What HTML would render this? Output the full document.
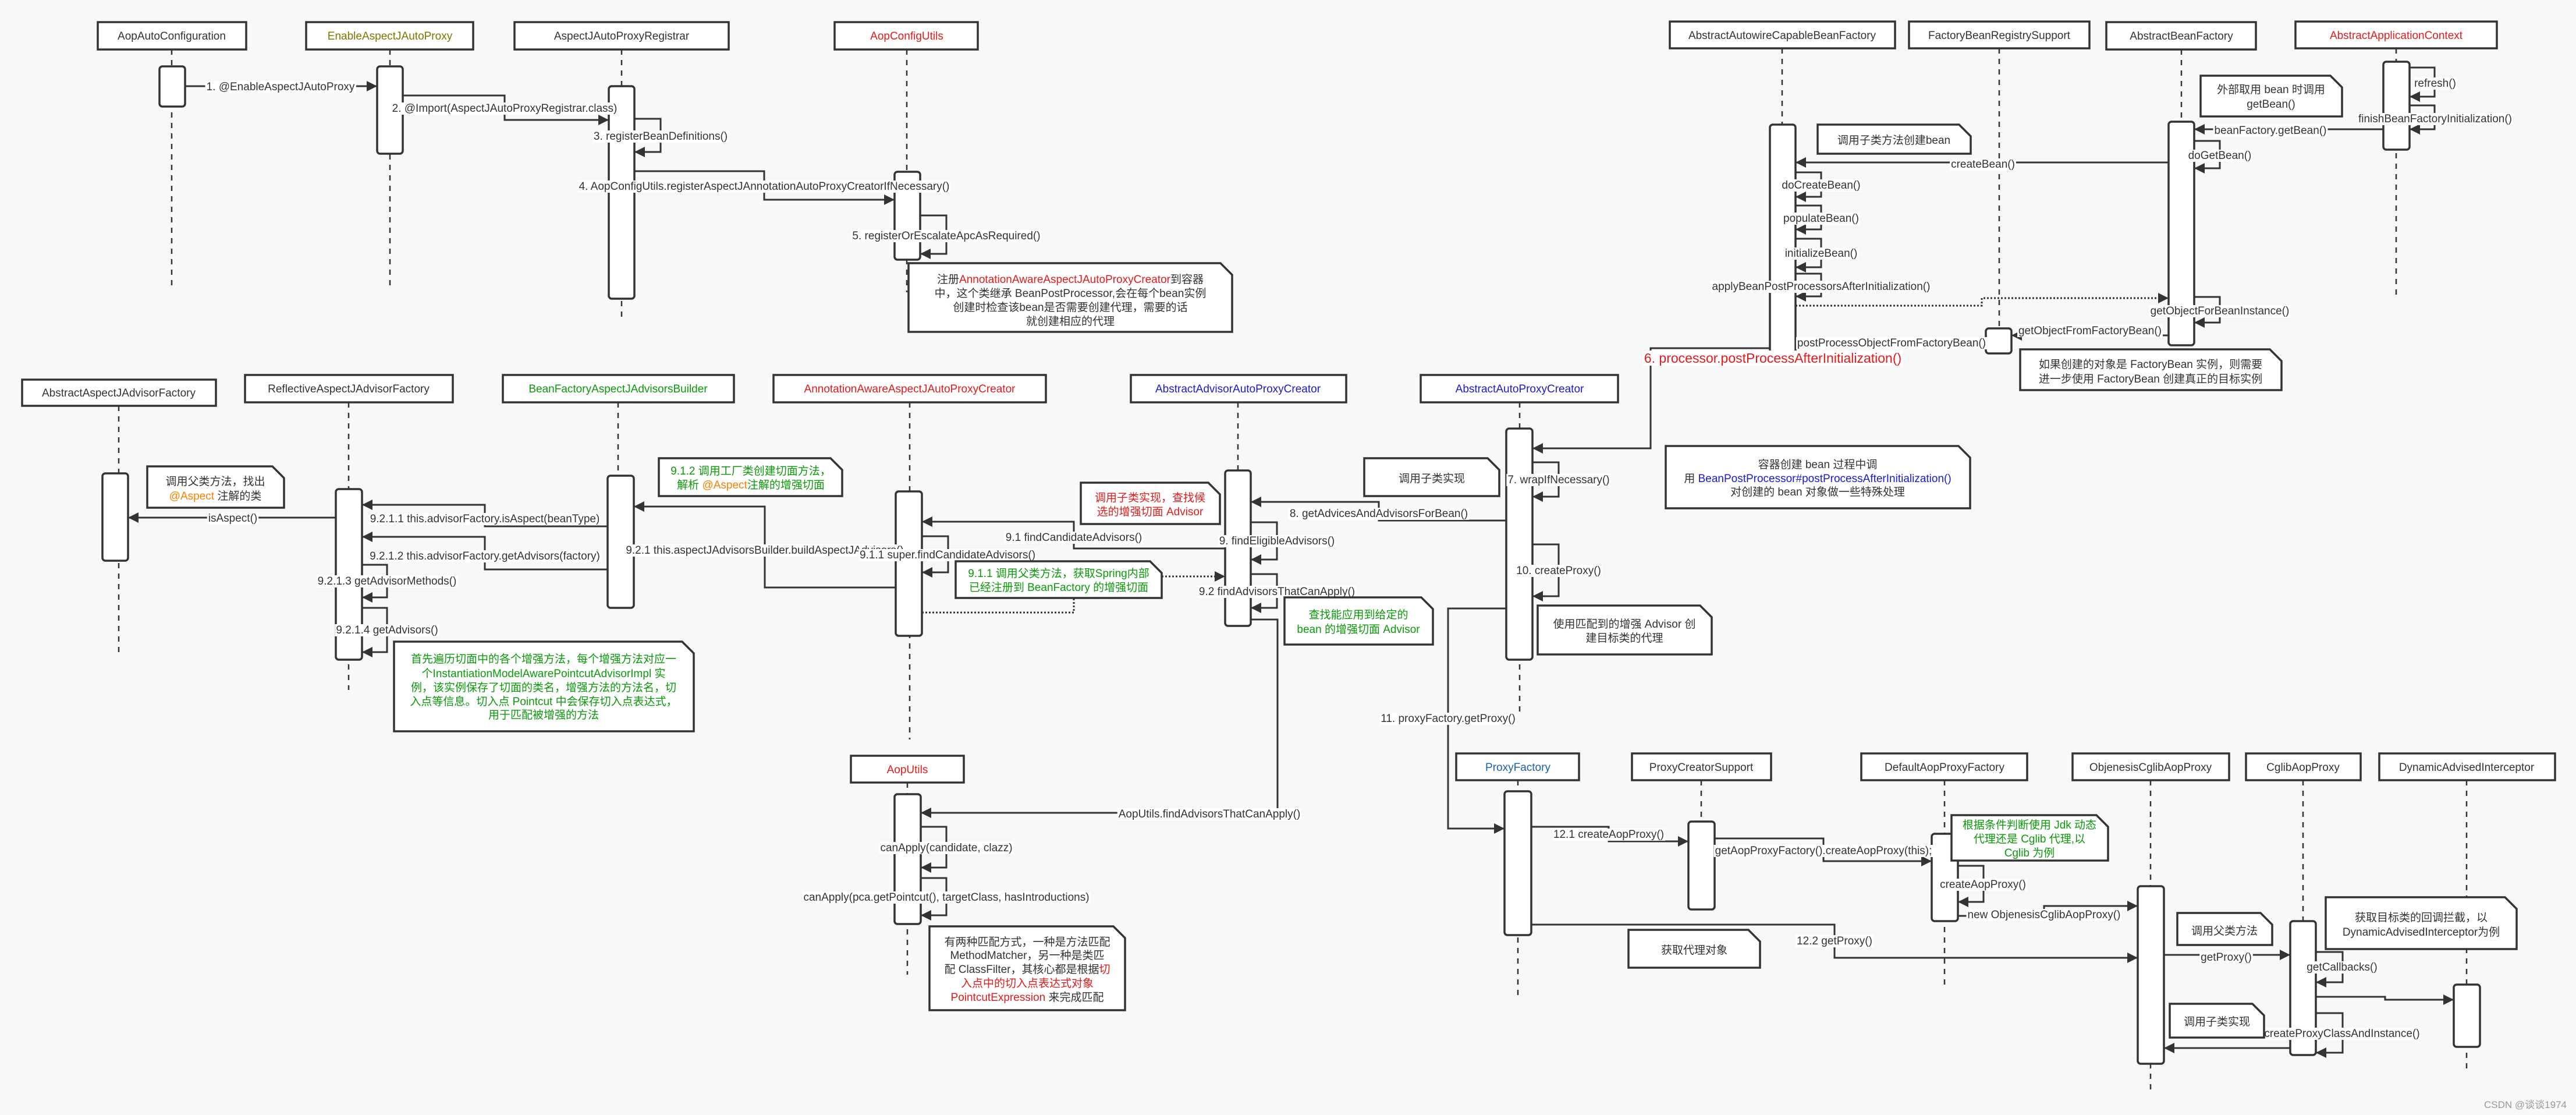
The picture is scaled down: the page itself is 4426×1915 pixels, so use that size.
<!DOCTYPE html>
<html><head><meta charset="utf-8">
<style>
html,body{margin:0;padding:0;background:#f8f8f8;}
svg{display:block;}
text{font-family:"Liberation Sans","Noto Sans CJK SC",sans-serif;font-size:19px;fill:#333;}
.h{text-anchor:middle;}
.lb{text-anchor:middle;}
.n{text-anchor:middle;}
.box{fill:#fff;stroke:#333;stroke-width:3.5;}
.act{fill:#fff;stroke:#333;stroke-width:3.5;}
.ll{stroke:#333;stroke-width:2.5;stroke-dasharray:9,9;fill:none;}
.m{fill:none;stroke:#333;stroke-width:3;marker-end:url(#a);}
.d{fill:none;stroke:#333;stroke-width:3;stroke-dasharray:3,3;marker-end:url(#a);}
.note{fill:#fff;stroke:#333;stroke-width:3.5;}
.g{fill:#0a9a0a;} .r{fill:#e31b1b;} .o{fill:#ff7f00;} .b{fill:#1a1ad0;}
</style></head><body>
<svg id="s" width="4426" height="1915" viewBox="0 0 4426 1915" xmlns="http://www.w3.org/2000/svg">
<defs><marker id="a" viewBox="0 0 10 10" refX="10" refY="5" markerWidth="18" markerHeight="18" markerUnits="userSpaceOnUse" orient="auto"><path d="M0,0L10,5L0,10z" fill="#333"/></marker></defs>
<rect width="4426" height="1915" fill="#f8f8f8"/>

<!-- lifelines -->
<g class="ll">
<path d="M295,85V496"/><path d="M670,85V496"/><path d="M1068,85V546"/><path d="M1558,85V502"/>
<path d="M3062,83V214"/><path d="M3435,83V565"/><path d="M3748,85V209"/><path d="M4117,83V507"/>
<path d="M204,697V1120"/><path d="M599,691V1185"/><path d="M1062,691V1044"/><path d="M1563,691V1270"/><path d="M2127,691V1075"/><path d="M2611,691V1223"/>
<path d="M1559,1344V1674"/><path d="M2608,1340V1710"/><path d="M2923,1340V1411"/><path d="M3341,1340V1699"/><path d="M3695,1340V1878"/><path d="M3957,1340V1582"/><path d="M4238,1340V1835"/>
</g>

<!-- headers -->
<rect class="box" x="168" y="38" width="255" height="47"/><text class="h" x="295" y="68">AopAutoConfiguration</text>
<rect class="box" x="526" y="38" width="287" height="47"/><text class="h" x="670" y="68" style="fill:#7a7a00">EnableAspectJAutoProxy</text>
<rect class="box" x="884" y="38" width="368" height="47"/><text class="h" x="1068" y="68">AspectJAutoProxyRegistrar</text>
<rect class="box" x="1434" y="38" width="246" height="47"/><text class="h r" x="1558" y="68">AopConfigUtils</text>
<rect class="box" x="2869" y="37" width="387" height="46"/><text class="h" x="3062" y="67">AbstractAutowireCapableBeanFactory</text>
<rect class="box" x="3280" y="37" width="310" height="46"/><text class="h" x="3435" y="67">FactoryBeanRegistrySupport</text>
<rect class="box" x="3619" y="38" width="257" height="47"/><text class="h" x="3748" y="68">AbstractBeanFactory</text>
<rect class="box" x="3944" y="37" width="346" height="46"/><text class="h r" x="4117" y="67">AbstractApplicationContext</text>
<rect class="box" x="38" y="652" width="333" height="45"/><text class="h" x="204" y="681">AbstractAspectJAdvisorFactory</text>
<rect class="box" x="421" y="644" width="357" height="47"/><text class="h" x="599" y="674">ReflectiveAspectJAdvisorFactory</text>
<rect class="box" x="864" y="644" width="397" height="47"/><text class="h g" x="1062" y="674">BeanFactoryAspectJAdvisorsBuilder</text>
<rect class="box" x="1329" y="644" width="468" height="47"/><text class="h r" x="1563" y="674">AnnotationAwareAspectJAutoProxyCreator</text>
<rect class="box" x="1943" y="644" width="370" height="47"/><text class="h b" x="2127" y="674">AbstractAdvisorAutoProxyCreator</text>
<rect class="box" x="2441" y="644" width="339" height="47"/><text class="h b" x="2611" y="674">AbstractAutoProxyCreator</text>
<rect class="box" x="1462" y="1298" width="194" height="46"/><text class="h r" x="1559" y="1328">AopUtils</text>
<rect class="box" x="2502" y="1294" width="211" height="46"/><text class="h" x="2608" y="1324" style="fill:#1d5fb0">ProxyFactory</text>
<rect class="box" x="2804" y="1294" width="239" height="46"/><text class="h" x="2923" y="1324">ProxyCreatorSupport</text>
<rect class="box" x="3198" y="1294" width="285" height="46"/><text class="h" x="3341" y="1324">DefaultAopProxyFactory</text>
<rect class="box" x="3561" y="1294" width="269" height="46"/><text class="h" x="3695" y="1324">ObjenesisCglibAopProxy</text>
<rect class="box" x="3859" y="1294" width="197" height="46"/><text class="h" x="3957" y="1324">CglibAopProxy</text>
<rect class="box" x="4088" y="1294" width="302" height="46"/><text class="h" x="4238" y="1324">DynamicAdvisedInterceptor</text>

<!-- activations -->
<g class="act">
<rect x="274" y="114" width="44" height="69" rx="5"/><rect x="648" y="114" width="44" height="150" rx="5"/><rect x="1046" y="148" width="44" height="365" rx="5"/><rect x="1537" y="295" width="44" height="151" rx="5"/>
<rect x="3041" y="214" width="44" height="392" rx="5"/><rect x="3412" y="564" width="44" height="43" rx="5"/><rect x="3726" y="209" width="44" height="384" rx="5"/><rect x="4095" y="106" width="45" height="151" rx="5"/>
<rect x="176" y="813" width="44" height="150" rx="5"/><rect x="577" y="840" width="45" height="293" rx="5"/><rect x="1044" y="817" width="45" height="227" rx="5"/><rect x="1539" y="844" width="45" height="248" rx="5"/><rect x="2105" y="808" width="44" height="267" rx="5"/><rect x="2588" y="736" width="45" height="397" rx="5"/>
<rect x="1537" y="1364" width="45" height="223" rx="5"/><rect x="2585" y="1359" width="46" height="247" rx="5"/><rect x="2901" y="1411" width="45" height="151" rx="5"/><rect x="3319" y="1432" width="45" height="150" rx="5"/><rect x="3673" y="1522" width="45" height="305" rx="5"/><rect x="3935" y="1582" width="44" height="230" rx="5"/><rect x="4216" y="1691" width="45" height="107" rx="5"/>
</g>

<!-- messages -->
<path class="m" d="M318,148H648"/>
<path class="m" d="M692,164H867V206H1046"/>
<path class="m" d="M1090,204H1135V261H1090"/>
<path class="m" d="M1090,294H1313V343H1537"/>
<path class="m" d="M1581,370H1626V436H1581"/>
<path class="m" d="M4140,116H4183V166H4140"/>
<path class="m" d="M4140,181H4183V222H4140"/>
<path class="m" d="M4095,222H3770"/>
<path class="m" d="M3770,242H3814V289H3770"/>
<path class="m" d="M3726,279H3085"/>
<path class="m" d="M3085,296H3129V338H3085"/>
<path class="m" d="M3085,353H3129V394H3085"/>
<path class="m" d="M3085,410H3129V459H3085"/>
<path class="m" d="M3085,470H3129V509H3085"/>
<path class="d" d="M3085,525H3405V512H3726"/>
<path class="m" d="M3770,510H3814V554H3770"/>
<path class="m" d="M3726,576H3456"/>
<path class="m" d="M3412,590H3085"/>
<path class="m" d="M3041,598H2836V770H2633"/>
<path class="m" d="M2633,794H2678V853H2633"/>
<path class="m" d="M2588,894H2369V862H2149"/>
<path class="m" d="M2149,897H2194V961H2149"/>
<path class="m" d="M2149,986H2194V1044H2149"/>
<path class="m" d="M2149,1064H2195V1396H1582"/>
<path class="m" d="M2105,942H1845V896H1584"/>
<path class="m" d="M1584,921H1629V983H1584"/>
<path class="d" d="M1584,1052H1845V990H2105"/>
<path class="m" d="M1539,1009H1314V870H1089"/>
<path class="m" d="M1044,904H833V867H622"/>
<path class="m" d="M1044,978H833V922H622"/>
<path class="m" d="M622,970H665V1026H622"/>
<path class="m" d="M622,1044H665V1120H622"/>
<path class="m" d="M577,889H220"/>
<path class="m" d="M2633,935H2678V1024H2633"/>
<path class="m" d="M2588,1045H2488V1423H2585"/>
<path class="m" d="M1582,1420H1626V1490H1582"/>
<path class="m" d="M1582,1508H1626V1572H1582"/>
<path class="m" d="M2631,1420H2764V1445H2901"/>
<path class="m" d="M2946,1440H3133V1479H3319"/>
<path class="m" d="M3364,1487H3408V1549H3364"/>
<path class="m" d="M3364,1573H3512V1556H3673"/>
<path class="m" d="M2631,1588H3152V1645H3673"/>
<path class="m" d="M3718,1640H3935"/>
<path class="m" d="M3979,1635H4025V1687H3979"/>
<path class="m" d="M3979,1712H4098V1717H4216"/>
<path class="m" d="M3979,1740H4025V1808H3979"/>
<path class="m" d="M3935,1800H3718"/>

<!-- message labels -->
<g id="labels">
<text class="lb" x="482" y="155">1. @EnableAspectJAutoProxy</text>
<text class="lb" x="867" y="192">2. @Import(AspectJAutoProxyRegistrar.class)</text>
<text class="lb" x="1135" y="240">3. registerBeanDefinitions()</text>
<text class="lb" x="1313" y="326">4. AopConfigUtils.registerAspectJAnnotationAutoProxyCreatorIfNecessary()</text>
<text class="lb" x="1626" y="411">5. registerOrEscalateApcAsRequired()</text>
<text class="lb" x="4184" y="149">refresh()</text>
<text class="lb" x="4184" y="210">finishBeanFactoryInitialization()</text>
<text class="lb" x="3901" y="230">beanFactory.getBean()</text>
<text class="lb" x="3814" y="273">doGetBean()</text>
<text class="lb" x="3407" y="288">createBean()</text>
<text class="lb" x="3129" y="324">doCreateBean()</text>
<text class="lb" x="3129" y="381">populateBean()</text>
<text class="lb" x="3129" y="441">initializeBean()</text>
<text class="lb" x="3129" y="498">applyBeanPostProcessorsAfterInitialization()</text>
<text class="lb" x="3814" y="540">getObjectForBeanInstance()</text>
<text class="lb" x="3591" y="574">getObjectFromFactoryBean()</text>
<text class="lb" x="3250" y="595">postProcessObjectFromFactoryBean()</text>
<text class="lb r" x="3046" y="623" style="font-size:23px">6. processor.postProcessAfterInitialization()</text>
<text class="lb" x="2678" y="830">7. wrapIfNecessary()</text>
<text class="lb" x="2369" y="888">8. getAdvicesAndAdvisorsForBean()</text>
<text class="lb" x="2194" y="935">9. findEligibleAdvisors()</text>
<text class="lb" x="2194" y="1022">9.2 findAdvisorsThatCanApply()</text>
<text class="lb" x="1845" y="929">9.1 findCandidateAdvisors()</text>
<text class="lb" x="1314" y="951">9.2.1 this.aspectJAdvisorsBuilder.buildAspectJAdvisors()</text>
<text class="lb" x="1628" y="959">9.1.1 super.findCandidateAdvisors()</text>
<text class="lb" x="833" y="897">9.2.1.1 this.advisorFactory.isAspect(beanType)</text>
<text class="lb" x="833" y="961">9.2.1.2 this.advisorFactory.getAdvisors(factory)</text>
<text class="lb" x="665" y="1004">9.2.1.3 getAdvisorMethods()</text>
<text class="lb" x="665" y="1088">9.2.1.4 getAdvisors()</text>
<text class="lb" x="400" y="896">isAspect()</text>
<text class="lb" x="2678" y="986">10. createProxy()</text>
<text class="lb" x="2488" y="1240">11. proxyFactory.getProxy()</text>
<text class="lb" x="2078" y="1404">AopUtils.findAdvisorsThatCanApply()</text>
<text class="lb" x="1626" y="1462">canApply(candidate, clazz)</text>
<text class="lb" x="1626" y="1547">canApply(pca.getPointcut(), targetClass, hasIntroductions)</text>
<text class="lb" x="2764" y="1439">12.1 createAopProxy()</text>
<text class="lb" x="3133" y="1467">getAopProxyFactory().createAopProxy(this);</text>
<text class="lb" x="3407" y="1525">createAopProxy()</text>
<text class="lb" x="3512" y="1577">new ObjenesisCglibAopProxy()</text>
<text class="lb" x="3152" y="1622">12.2 getProxy()</text>
<text class="lb" x="3825" y="1650">getProxy()</text>
<text class="lb" x="4024" y="1667">getCallbacks()</text>
<text class="lb" x="4024" y="1781">createProxyClassAndInstance()</text>
</g>

<!-- notes -->
<g class="note">
<path d="M1561,452H2097L2117,472V570H1561Z"/>
<path d="M3781,130H4004L4024,150V200H3781Z"/>
<path d="M3123,214H3366L3386,234V264H3123Z"/>
<path d="M3471,600H3900L3920,620V670H3471Z"/>
<path d="M253,801H468L488,821V872H253Z"/>
<path d="M677,1102H1172L1192,1122V1256H677Z"/>
<path d="M1132,787H1427L1447,807V852H1132Z"/>
<path d="M1642,964H1976L1996,984V1027H1642Z"/>
<path d="M1857,829H2076L2096,849V900H1857Z"/>
<path d="M2344,787H2556L2576,807V852H2344Z"/>
<path d="M2207,1026H2442L2462,1046V1107H2207Z"/>
<path d="M2862,766H3365L3385,786V873H2862Z"/>
<path d="M2642,1040H2921L2941,1060V1124H2642Z"/>
<path d="M1597,1591H1913L1933,1611V1735H1597Z"/>
<path d="M2798,1597H3004L3024,1617V1662H2798Z"/>
<path d="M3353,1400H3602L3622,1420V1478H3353Z"/>
<path d="M3741,1568H3884L3904,1588V1623H3741Z"/>
<path d="M3996,1541H4304L4324,1561V1630H3996Z"/>
<path d="M3728,1724H3870L3890,1744V1782H3728Z"/>
</g>
<g class="notes-text">
<text class="n" x="1839" y="486">注册<tspan class="r">AnnotationAwareAspectJAutoProxyCreator</tspan>到容器</text>
<text class="n" x="1839" y="510">中，这个类继承 BeanPostProcessor,会在每个bean实例</text>
<text class="n" x="1839" y="534">创建时检查该bean是否需要创建代理，需要的话</text>
<text class="n" x="1839" y="558">就创建相应的代理</text>
<text class="n" x="3902" y="160">外部取用 bean 时调用</text>
<text class="n" x="3902" y="185">getBean()</text>
<text class="n" x="3254" y="247">调用子类方法创建bean</text>
<text class="n" x="3695" y="632">如果创建的对象是 FactoryBean 实例，则需要</text>
<text class="n" x="3695" y="657">进一步使用 FactoryBean 创建真正的目标实例</text>
<text class="n" x="370" y="833">调用父类方法，找出</text>
<text class="n" x="370" y="858"><tspan class="o">@Aspect</tspan> 注解的类</text>
<text class="n g" x="934" y="1138">首先遍历切面中的各个增强方法，每个增强方法对应一</text>
<text class="n g" x="934" y="1163">个InstantiationModelAwarePointcutAdvisorImpl 实</text>
<text class="n g" x="934" y="1187">例，该实例保存了切面的类名，增强方法的方法名，切</text>
<text class="n g" x="934" y="1211">入点等信息。切入点 Pointcut 中会保存切入点表达式，</text>
<text class="n g" x="934" y="1234">用于匹配被增强的方法</text>
<text class="n g" x="1290" y="815">9.1.2 调用工厂类创建切面方法，</text>
<text class="n g" x="1290" y="839">解析 <tspan class="o">@Aspect</tspan>注解的增强切面</text>
<text class="n g" x="1819" y="991">9.1.1 调用父类方法，获取Spring内部</text>
<text class="n g" x="1819" y="1015">已经注册到 BeanFactory 的增强切面</text>
<text class="n r" x="1976" y="861">调用子类实现，查找候</text>
<text class="n r" x="1976" y="885">选的增强切面 Advisor</text>
<text class="n" x="2460" y="828">调用子类实现</text>
<text class="n g" x="2334" y="1062">查找能应用到给定的</text>
<text class="n g" x="2334" y="1087">bean 的增强切面 Advisor</text>
<text class="n" x="3123" y="804">容器创建 bean 过程中调</text>
<text class="n" x="3123" y="828">用 <tspan class="b">BeanPostProcessor#postProcessAfterInitialization()</tspan></text>
<text class="n" x="3123" y="851">对创建的 bean 对象做一些特殊处理</text>
<text class="n" x="2791" y="1078">使用匹配到的增强 Advisor 创</text>
<text class="n" x="2791" y="1102">建目标类的代理</text>
<text class="n" x="1765" y="1624">有两种匹配方式，一种是方法匹配</text>
<text class="n" x="1765" y="1647">MethodMatcher，另一种是类匹</text>
<text class="n" x="1765" y="1671">配 ClassFilter，其核心都是根据<tspan class="r">切</tspan></text>
<text class="n r" x="1765" y="1695">入点中的切入点表达式对象</text>
<text class="n" x="1765" y="1719"><tspan class="r">PointcutExpression</tspan> 来完成匹配</text>
<text class="n" x="2911" y="1638">获取代理对象</text>
<text class="n g" x="3487" y="1423">根据条件判断使用 Jdk 动态</text>
<text class="n g" x="3487" y="1447">代理还是 Cglib 代理,以</text>
<text class="n g" x="3487" y="1471">Cglib 为例</text>
<text class="n" x="3822" y="1605">调用父类方法</text>
<text class="n" x="4160" y="1582">获取目标类的回调拦截，以</text>
<text class="n" x="4160" y="1607">DynamicAdvisedInterceptor为例</text>
<text class="n" x="3809" y="1761">调用子类实现</text>
</g>
<text x="4410" y="1903" style="text-anchor:end;fill:#999;font-size:17px">CSDN @谈谈1974</text>
</svg>
<script>
(function(){var ts=document.querySelectorAll('#labels text');for(var i=0;i<ts.length;i++){var t=ts[i];try{var b=t.getBBox();var r=document.createElementNS('http://www.w3.org/2000/svg','rect');r.setAttribute('x',b.x-2);r.setAttribute('y',b.y);r.setAttribute('width',b.width+4);r.setAttribute('height',b.height);r.setAttribute('fill','#fff');t.parentNode.insertBefore(r,t);}catch(e){}}})();
</script>
</body></html>
